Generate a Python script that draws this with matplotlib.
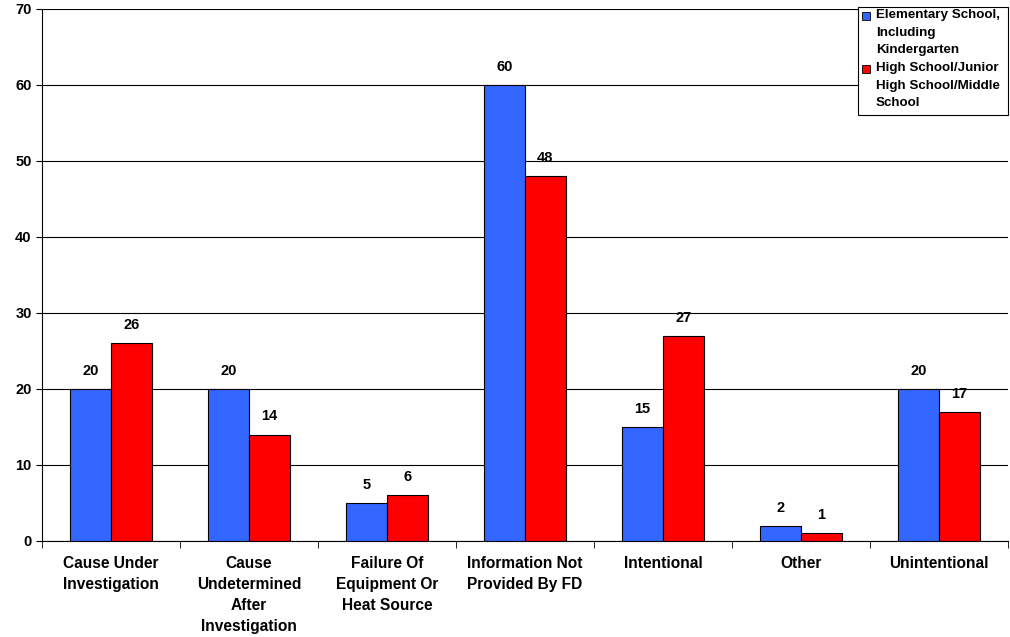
import numpy as np
import matplotlib.pyplot as plt
from matplotlib.patches import Rectangle

plt.rcParams['font.family'] = ['Liberation Sans', 'DejaVu Sans']
plt.rcParams['font.weight'] = 'bold'

categories = ["Cause Under\nInvestigation", "Cause\nUndetermined\nAfter\nInvestigation",
              "Failure Of\nEquipment Or\nHeat Source", "Information Not\nProvided By FD",
              "Intentional", "Other", "Unintentional"]
elementary = [20, 20, 5, 60, 15, 2, 20]
high_school = [26, 14, 6, 48, 27, 1, 17]
series_names = ["Elementary School,\nIncluding\nKindergarten",
                "High School/Junior\nHigh School/Middle\nSchool"]
colors = ['#3366FF', '#FF0000']

W, H = 1010, 637
fig = plt.figure(figsize=(W / 100, H / 100), dpi=100)
ax = fig.add_axes([42 / W, 1 - 541 / H, 966 / W, 532 / H])

x = np.arange(len(categories))
w = 0.295
b1 = ax.bar(x - w / 2, elementary, w, color=colors[0], edgecolor='black', linewidth=0.8, zorder=3)
b2 = ax.bar(x + w / 2, high_school, w, color=colors[1], edgecolor='black', linewidth=0.8, zorder=3)

for bars in (b1, b2):
    for r in bars:
        ax.annotate(f"{int(r.get_height())}", (r.get_x() + r.get_width() / 2, r.get_height()),
                    xytext=(0, 8), textcoords='offset points', ha='center', va='bottom',
                    fontsize=10.5, fontweight='bold')

ax.set_xlim(-0.5, len(categories) - 0.5)
ax.set_ylim(0, 70)
ax.set_yticks(range(0, 71, 10))
ax.yaxis.grid(True, color='black', linewidth=0.8, zorder=0)
ax.set_xticks(x)
ax.set_xticklabels(categories, fontsize=11.2, fontweight='bold', linespacing=1.48)
ax.set_xticks(np.arange(-0.5, len(categories), 1), minor=True)
ax.tick_params(axis='x', which='major', length=0, pad=11)
ax.tick_params(axis='x', which='minor', length=5, direction='out')
ax.tick_params(axis='y', labelsize=10.5, length=4, direction='out')
for lab in ax.get_yticklabels():
    lab.set_fontweight('bold')
ax.spines['top'].set_visible(False)
ax.spines['right'].set_visible(False)

# legend box drawn by hand so the markers sit on the first line of each entry
fig.patches.append(Rectangle((858 / W, 1 - 115 / H), 150 / W, 108 / H, transform=fig.transFigure,
                             facecolor='white', edgecolor='black', linewidth=0.8, zorder=5))
for i, (name, c) in enumerate(zip(series_names, colors)):
    ytop = 9 + i * 53
    fig.patches.append(Rectangle((862 / W, 1 - (ytop + 11) / H), 8 / W, 8 / H,
                                 transform=fig.transFigure, facecolor=c, edgecolor='black',
                                 linewidth=0.6, zorder=6))
    fig.text(876 / W, 1 - ytop / H, name, fontsize=9.6, fontweight='bold', va='top', ha='left',
             linespacing=1.62, zorder=6)

fig.savefig('out.png', dpi=100)
